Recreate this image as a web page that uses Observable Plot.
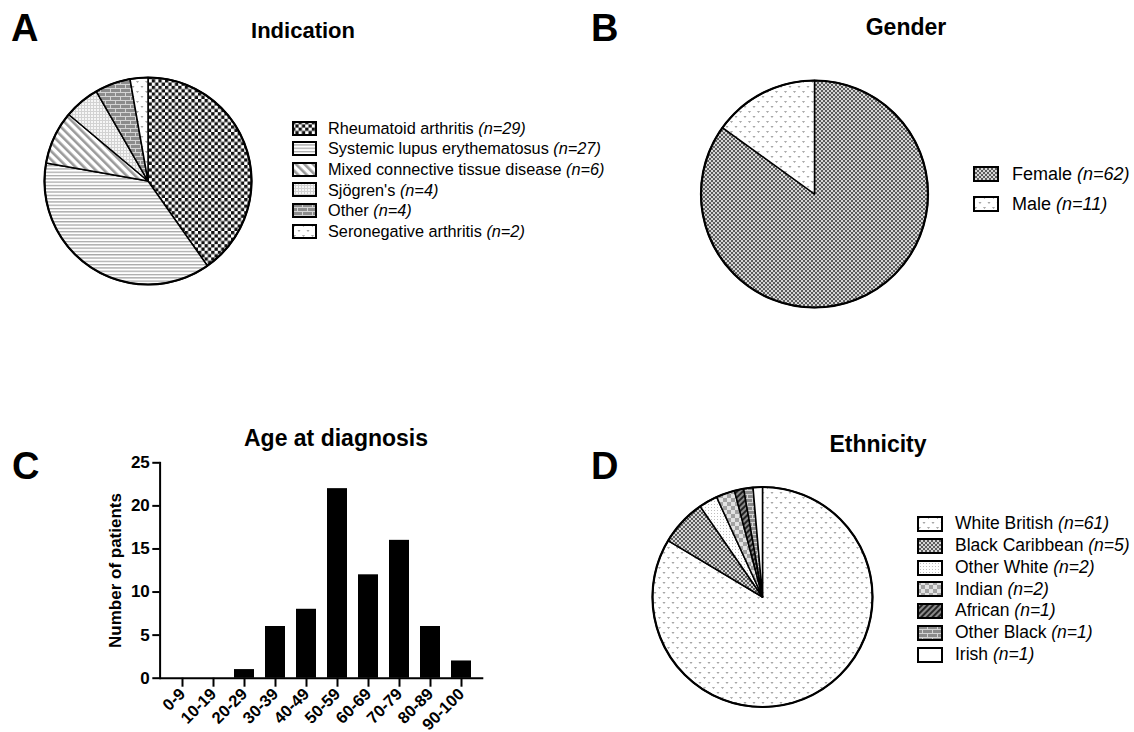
<!DOCTYPE html>
<html><head><meta charset="utf-8">
<script src="https://cdn.jsdelivr.net/npm/d3@7"></script>
<script src="https://cdn.jsdelivr.net/npm/@observablehq/plot@0.6"></script>
<style>
body{margin:0;background:#fff;font-family:"Liberation Sans",Arial,sans-serif;}
#fig{position:relative;width:1134px;height:732px;overflow:hidden;background:#fff;}
.abs{position:absolute;white-space:nowrap;line-height:1;color:#000;}
.panel{position:absolute;width:567px;height:366px;overflow:visible;}
.panel svg{background:transparent !important;overflow:visible;}
</style></head><body>
<svg width="0" height="0" style="position:absolute">
<defs>
<pattern id="p-checker" width="6.6" height="6.6" patternUnits="userSpaceOnUse">
  <rect width="6.6" height="6.6" fill="#fff"/>
  <rect width="3.3" height="3.3" fill="#111"/>
  <rect x="3.3" y="3.3" width="3.3" height="3.3" fill="#111"/>
</pattern>
<pattern id="p-hlines" width="4" height="3.3" patternUnits="userSpaceOnUse">
  <rect width="4" height="3.3" fill="#fff"/>
  <rect width="4" height="1.3" fill="#a8a8a8"/>
</pattern>
<pattern id="p-diag" width="6" height="6" patternUnits="userSpaceOnUse" patternTransform="rotate(-45)">
  <rect width="6" height="6" fill="#fff"/>
  <rect width="2.6" height="6" fill="#9a9a9a"/>
</pattern>
<pattern id="p-grid" width="3" height="3" patternUnits="userSpaceOnUse">
  <rect width="3" height="3" fill="#f6f6f6"/>
  <rect width="1" height="3" fill="#d2d2d2"/>
  <rect width="3" height="1" fill="#d2d2d2"/>
</pattern>
<pattern id="p-brick" width="10" height="8" patternUnits="userSpaceOnUse">
  <rect width="10" height="8" fill="#8c8c8c"/>
  <rect y="0" width="10" height="1" fill="#d4d4d4"/>
  <rect y="4" width="10" height="1" fill="#d4d4d4"/>
  <rect x="0" y="0" width="1" height="4" fill="#d4d4d4"/>
  <rect x="5" y="4" width="1" height="4" fill="#d4d4d4"/>
</pattern>
<pattern id="p-heart" width="9" height="10" patternUnits="userSpaceOnUse">
  <rect width="9" height="10" fill="#fff"/>
  <path d="M1,1 h1.2 l0.3,0.6 l0.3,-0.6 h1.2 l-1.5,2 z M5.5,6 h1.2 l0.3,0.6 l0.3,-0.6 h1.2 l-1.5,2 z" fill="#9c9c9c"/>
</pattern>
<pattern id="p-fine" width="4" height="4" patternUnits="userSpaceOnUse">
  <rect width="4" height="4" fill="#d6d6d6"/>
  <rect width="2" height="2" fill="#5c5c5c"/>
  <rect x="2" y="2" width="2" height="2" fill="#5c5c5c"/>
</pattern>
<pattern id="p-dots" width="3" height="3" patternUnits="userSpaceOnUse">
  <rect width="3" height="3" fill="#fff"/>
  <rect width="1" height="1" fill="#bdbdbd"/>
</pattern>
<pattern id="p-indian" width="8" height="8" patternUnits="userSpaceOnUse">
  <rect width="8" height="8" fill="#e2e2e2"/>
  <rect width="4" height="4" fill="#a2a2a2"/>
  <rect x="4" y="4" width="4" height="4" fill="#a2a2a2"/>
</pattern>
<pattern id="p-african" width="4" height="4" patternUnits="userSpaceOnUse" patternTransform="rotate(45)">
  <rect width="4" height="4" fill="#8a8a8a"/>
  <rect width="2" height="4" fill="#222"/>
</pattern>
<pattern id="p-white" width="4" height="4" patternUnits="userSpaceOnUse">
  <rect width="4" height="4" fill="#fff"/>
</pattern>
</defs>
</svg>
<div id="fig"></div>
<script>
// ---------- data ----------
const indicationLabels = ["Rheumatoid arthritis", "Systemic lupus erythematosus", "Mixed connective tissue disease", "Sjögren's", "Other", "Seronegative arthritis"];
const indicationCounts = [29, 27, 6, 4, 4, 2];
const genderLabels = ["Female", "Male"];
const genderCounts = [62, 11];
const ageBins = ["0-9", "10-19", "20-29", "30-39", "40-49", "50-59", "60-69", "70-79", "80-89", "90-100"];
const ageCounts = [0, 0, 1, 6, 8, 22, 12, 16, 6, 2];
const ethnicityLabels = ["White British", "Black Caribbean", "Other White", "Indian", "African", "Other Black", "Irish"];
const ethnicityCounts = [61, 5, 2, 2, 1, 1, 1];
const ageTicks = [0, 5, 10, 15, 20, 25];

// ---------- styles (pattern ids) ----------
const indicationFills = ["p-checker", "p-hlines", "p-diag", "p-grid", "p-brick", "p-heart"];
const genderFills = ["p-fine", "p-heart"];
const ethnicityFills = ["p-heart", "p-fine", "p-dots", "p-indian", "p-african", "p-brick", "p-white"];

const FONT = '"Liberation Sans", Arial, sans-serif';
const fig = document.getElementById("fig");

function panel(left, top) {
  const d = document.createElement("div");
  d.className = "panel";
  d.style.left = left + "px";
  d.style.top = top + "px";
  fig.appendChild(d);
  return d;
}

function addText(text, x, baseline, size, weight, anchor) {
  const d = document.createElement("div");
  d.className = "abs";
  d.textContent = text;
  d.style.fontSize = size + "px";
  d.style.fontWeight = weight;
  d.style.top = (baseline - 0.8465 * size) + "px";
  d.style.left = x + "px";
  if (anchor === "middle") d.style.transform = "translateX(-50%)";
  fig.appendChild(d);
}

function addLegend(labels, counts, fills, o) {
  labels.forEach((lab, i) => {
    const cy = o.y0 + i * o.dy;
    const svg = d3.create("svg")
      .attr("width", o.sw + 2).attr("height", o.sh + 2)
      .style("position", "absolute")
      .style("left", (o.sx - 1) + "px")
      .style("top", (cy - o.sh / 2 - 1) + "px");
    svg.append("rect").attr("x", 1).attr("y", 1).attr("width", o.sw).attr("height", o.sh)
      .attr("fill", `url(#${fills[i]})`).attr("stroke", "#000").attr("stroke-width", 2);
    fig.appendChild(svg.node());
    const t = document.createElement("div");
    t.className = "abs";
    t.style.left = o.tx + "px";
    t.style.top = (cy - o.fs / 2) + "px";
    t.style.fontSize = o.fs + "px";
    t.append(lab + " ");
    const em = document.createElement("i");
    em.textContent = `(n=${counts[i]})`;
    t.append(em);
    fig.appendChild(t);
  });
}

function piePlot(labels, counts, fills, cx, cy, r) {
  const data = labels.map((label, i) => ({label, value: counts[i], fill: fills[i]}));
  const arcs = d3.pie().sort(null).value(d => d.value)(data);
  const slices = (index, scales) => {
    const {x, y} = scales;
    const g = d3.create("svg:g").attr("aria-label", "pie slices");
    const x0 = x(0), y0 = y(0);
    const rx = Math.abs(x(1) - x0), ry = Math.abs(y(1) - y0);
    for (const a of arcs) {
      const xa = x(Math.sin(a.startAngle)), ya = y(Math.cos(a.startAngle));
      const xb = x(Math.sin(a.endAngle)), yb = y(Math.cos(a.endAngle));
      const large = a.endAngle - a.startAngle > Math.PI ? 1 : 0;
      g.append("path")
        .attr("d", `M${x0},${y0}L${xa},${ya}A${rx},${ry} 0 ${large} 1 ${xb},${yb}Z`)
        .attr("fill", `url(#${a.data.fill})`)
        .attr("stroke", "#000").attr("stroke-width", 1.5).attr("stroke-linejoin", "round");
    }
    g.append("ellipse").attr("cx", x0).attr("cy", y0).attr("rx", rx).attr("ry", ry)
      .attr("fill", "none").attr("stroke", "#000").attr("stroke-width", 2.2);
    return g.node();
  };
  return Plot.plot({
    width: 567, height: 366, margin: 0,
    x: {domain: [-1, 1], range: [cx - r, cx + r], axis: null},
    y: {domain: [-1, 1], range: [cy + r, cy - r], axis: null},
    style: {background: "transparent", overflow: "visible"},
    marks: [
      Plot.dot([{x: -1, y: -1}, {x: 1, y: 1}], {x: "x", y: "y", r: 0, stroke: "none"}),
      slices
    ]
  });
}

// ---------- Panel A ----------
panel(0, 0).appendChild(piePlot(indicationLabels, indicationCounts, indicationFills, 148, 181, 103.5));
addText("A", 11, 41, 38, "bold");
addText("Indication", 303, 39, 22, "bold", "middle");
addLegend(indicationLabels, indicationCounts, indicationFills, {sx: 293, sw: 23, sh: 13, tx: 328, y0: 128, dy: 20.6, fs: 16.3});

// ---------- Panel B ----------
panel(567, 0).appendChild(piePlot(genderLabels, genderCounts, genderFills, 247.5, 194, 113.5));
addText("B", 591, 41, 38, "bold");
addText("Gender", 906, 35, 23, "bold", "middle");
addLegend(genderLabels, genderCounts, genderFills, {sx: 974, sw: 24, sh: 14, tx: 1012, y0: 174, dy: 30, fs: 18});

// ---------- Panel C ----------
const ageData = ageBins.map((bin, i) => ({bin, count: ageCounts[i]}));
panel(0, 366).appendChild(Plot.plot({
  width: 567, height: 366,
  marginLeft: 159.6, marginRight: 83.7, marginTop: 96.3, marginBottom: 54.3,
  x: {domain: ageBins, padding: 0.35},
  y: {domain: [0, 25]},
  style: {background: "transparent", fontFamily: FONT, fontSize: "16px", overflow: "visible", color: "#000"},
  marks: [
    Plot.barY(ageData, {x: "bin", y: "count", fill: "#000"}),
    Plot.ruleY([0], {strokeWidth: 2}),
    Plot.frame({anchor: "left", strokeWidth: 2}),
    Plot.axisY({ticks: ageTicks, tickSize: 7.3, tickPadding: 3, strokeWidth: 2, fontSize: 17, fontWeight: "bold", label: null, tickFormat: d => d}),
    Plot.axisX({tickSize: 9, tickRotate: -45, strokeWidth: 2, fontSize: 16.5, fontWeight: "bold", label: null, tickPadding: 4}),
    Plot.text(["Number of patients"], {frameAnchor: "left", text: d => d, rotate: -90, dx: -45, textAnchor: "middle", fontSize: 17, fontWeight: "bold"})
  ]
}));
addText("C", 12, 479, 38, "bold");
addText("Age at diagnosis", 336, 446, 23, "bold", "middle");

// ---------- Panel D ----------
panel(567, 366).appendChild(piePlot(ethnicityLabels, ethnicityCounts, ethnicityFills, 195.5, 231, 110));
addText("D", 591, 479, 38, "bold");
addText("Ethnicity", 878, 452, 23, "bold", "middle");
addLegend(ethnicityLabels, ethnicityCounts, ethnicityFills, {sx: 918, sw: 24, sh: 14, tx: 955, y0: 524, dy: 21.8, fs: 17.5});
</script>
</body></html>
